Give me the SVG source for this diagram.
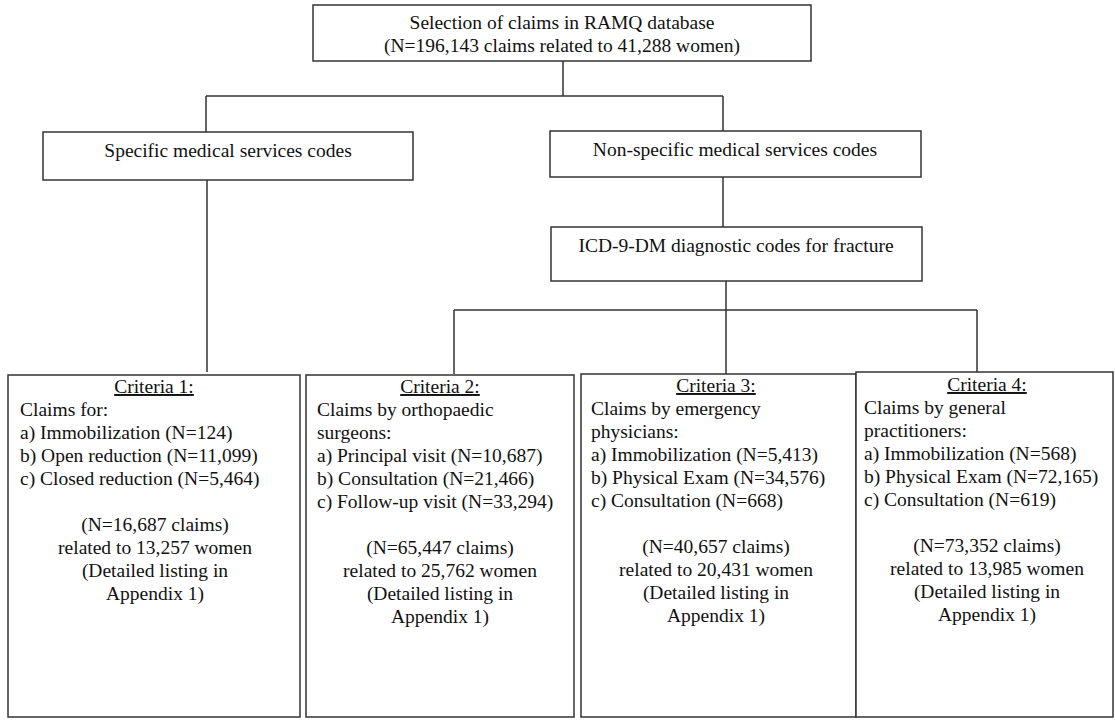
<svg xmlns="http://www.w3.org/2000/svg" width="1115" height="720" viewBox="0 0 1115 720">
<style>
.box{fill:#fff;stroke:#333;stroke-width:1.5}
.ln{fill:none;stroke:#333;stroke-width:1.5}
text{font-family:"Liberation Serif","Times New Roman",serif;font-size:19.5px;fill:#111}
.c{text-anchor:middle}
.u{text-decoration:underline}
</style>
<rect width="1115" height="720" fill="#fff"/>
<g id="connectors">
<path class="ln" d="M563,61V96M206,96H723M206,96V132M723,96V131M723,177V227M207,180V372M726,281V310M454,310H977M454,310V374M726,310V374M977,310V372"/>
</g>
<g id="top">
<rect class="box" x="313" y="5" width="498" height="56"/>
<text class="c" x="562" y="29">Selection of claims in RAMQ database</text>
<text class="c" x="562" y="52">(N=196,143 claims related to 41,288 women)</text>
</g>
<g id="specific">
<rect class="box" x="43" y="132" width="370" height="48"/>
<text class="c" x="228" y="157">Specific medical services codes</text>
</g>
<g id="nonspecific">
<rect class="box" x="550" y="131" width="371" height="46"/>
<text class="c" x="735" y="156">Non-specific medical services codes</text>
</g>
<g id="icd">
<rect class="box" x="551" y="227" width="371" height="54"/>
<text class="c" x="736" y="252">ICD-9-DM diagnostic codes for fracture</text>
</g>
<g id="criteria1">
<rect class="box" x="8" y="375" width="292" height="342"/>
<text class="c u" x="154" y="393">Criteria 1:</text>
<text x="20" y="416">Claims for:</text>
<text x="20" y="439">a) Immobilization (N=124)</text>
<text x="20" y="462">b) Open reduction (N=11,099)</text>
<text x="20" y="485">c) Closed reduction (N=5,464)</text>
<text class="c" x="155" y="531">(N=16,687 claims)</text>
<text class="c" x="155" y="554">related to 13,257 women</text>
<text class="c" x="155" y="577">(Detailed listing in</text>
<text class="c" x="155" y="600">Appendix 1)</text>
</g>
<g id="criteria2">
<rect class="box" x="306" y="375" width="268" height="342"/>
<text class="c u" x="440" y="393">Criteria 2:</text>
<text x="317" y="416">Claims by orthopaedic</text>
<text x="317" y="439">surgeons:</text>
<text x="317" y="462">a) Principal visit (N=10,687)</text>
<text x="317" y="485">b) Consultation (N=21,466)</text>
<text x="317" y="508">c) Follow-up visit (N=33,294)</text>
<text class="c" x="440" y="554">(N=65,447 claims)</text>
<text class="c" x="440" y="577">related to 25,762 women</text>
<text class="c" x="440" y="600">(Detailed listing in</text>
<text class="c" x="440" y="623">Appendix 1)</text>
</g>
<g id="criteria3">
<rect class="box" x="581" y="374" width="275" height="343"/>
<text class="c u" x="716" y="392">Criteria 3:</text>
<text x="591" y="415">Claims by emergency</text>
<text x="591" y="438">physicians:</text>
<text x="591" y="461">a) Immobilization (N=5,413)</text>
<text x="591" y="484">b) Physical Exam (N=34,576)</text>
<text x="591" y="507">c) Consultation (N=668)</text>
<text class="c" x="716" y="553">(N=40,657 claims)</text>
<text class="c" x="716" y="576">related to 20,431 women</text>
<text class="c" x="716" y="599">(Detailed listing in</text>
<text class="c" x="716" y="622">Appendix 1)</text>
</g>
<g id="criteria4">
<rect class="box" x="856" y="372" width="257" height="345"/>
<text class="c u" x="987" y="391">Criteria 4:</text>
<text x="864" y="414">Claims by general</text>
<text x="864" y="437">practitioners:</text>
<text x="864" y="460">a) Immobilization (N=568)</text>
<text x="864" y="483">b) Physical Exam (N=72,165)</text>
<text x="864" y="506">c) Consultation (N=619)</text>
<text class="c" x="987" y="552">(N=73,352 claims)</text>
<text class="c" x="987" y="575">related to 13,985 women</text>
<text class="c" x="987" y="598">(Detailed listing in</text>
<text class="c" x="987" y="621">Appendix 1)</text>
</g>
</svg>
